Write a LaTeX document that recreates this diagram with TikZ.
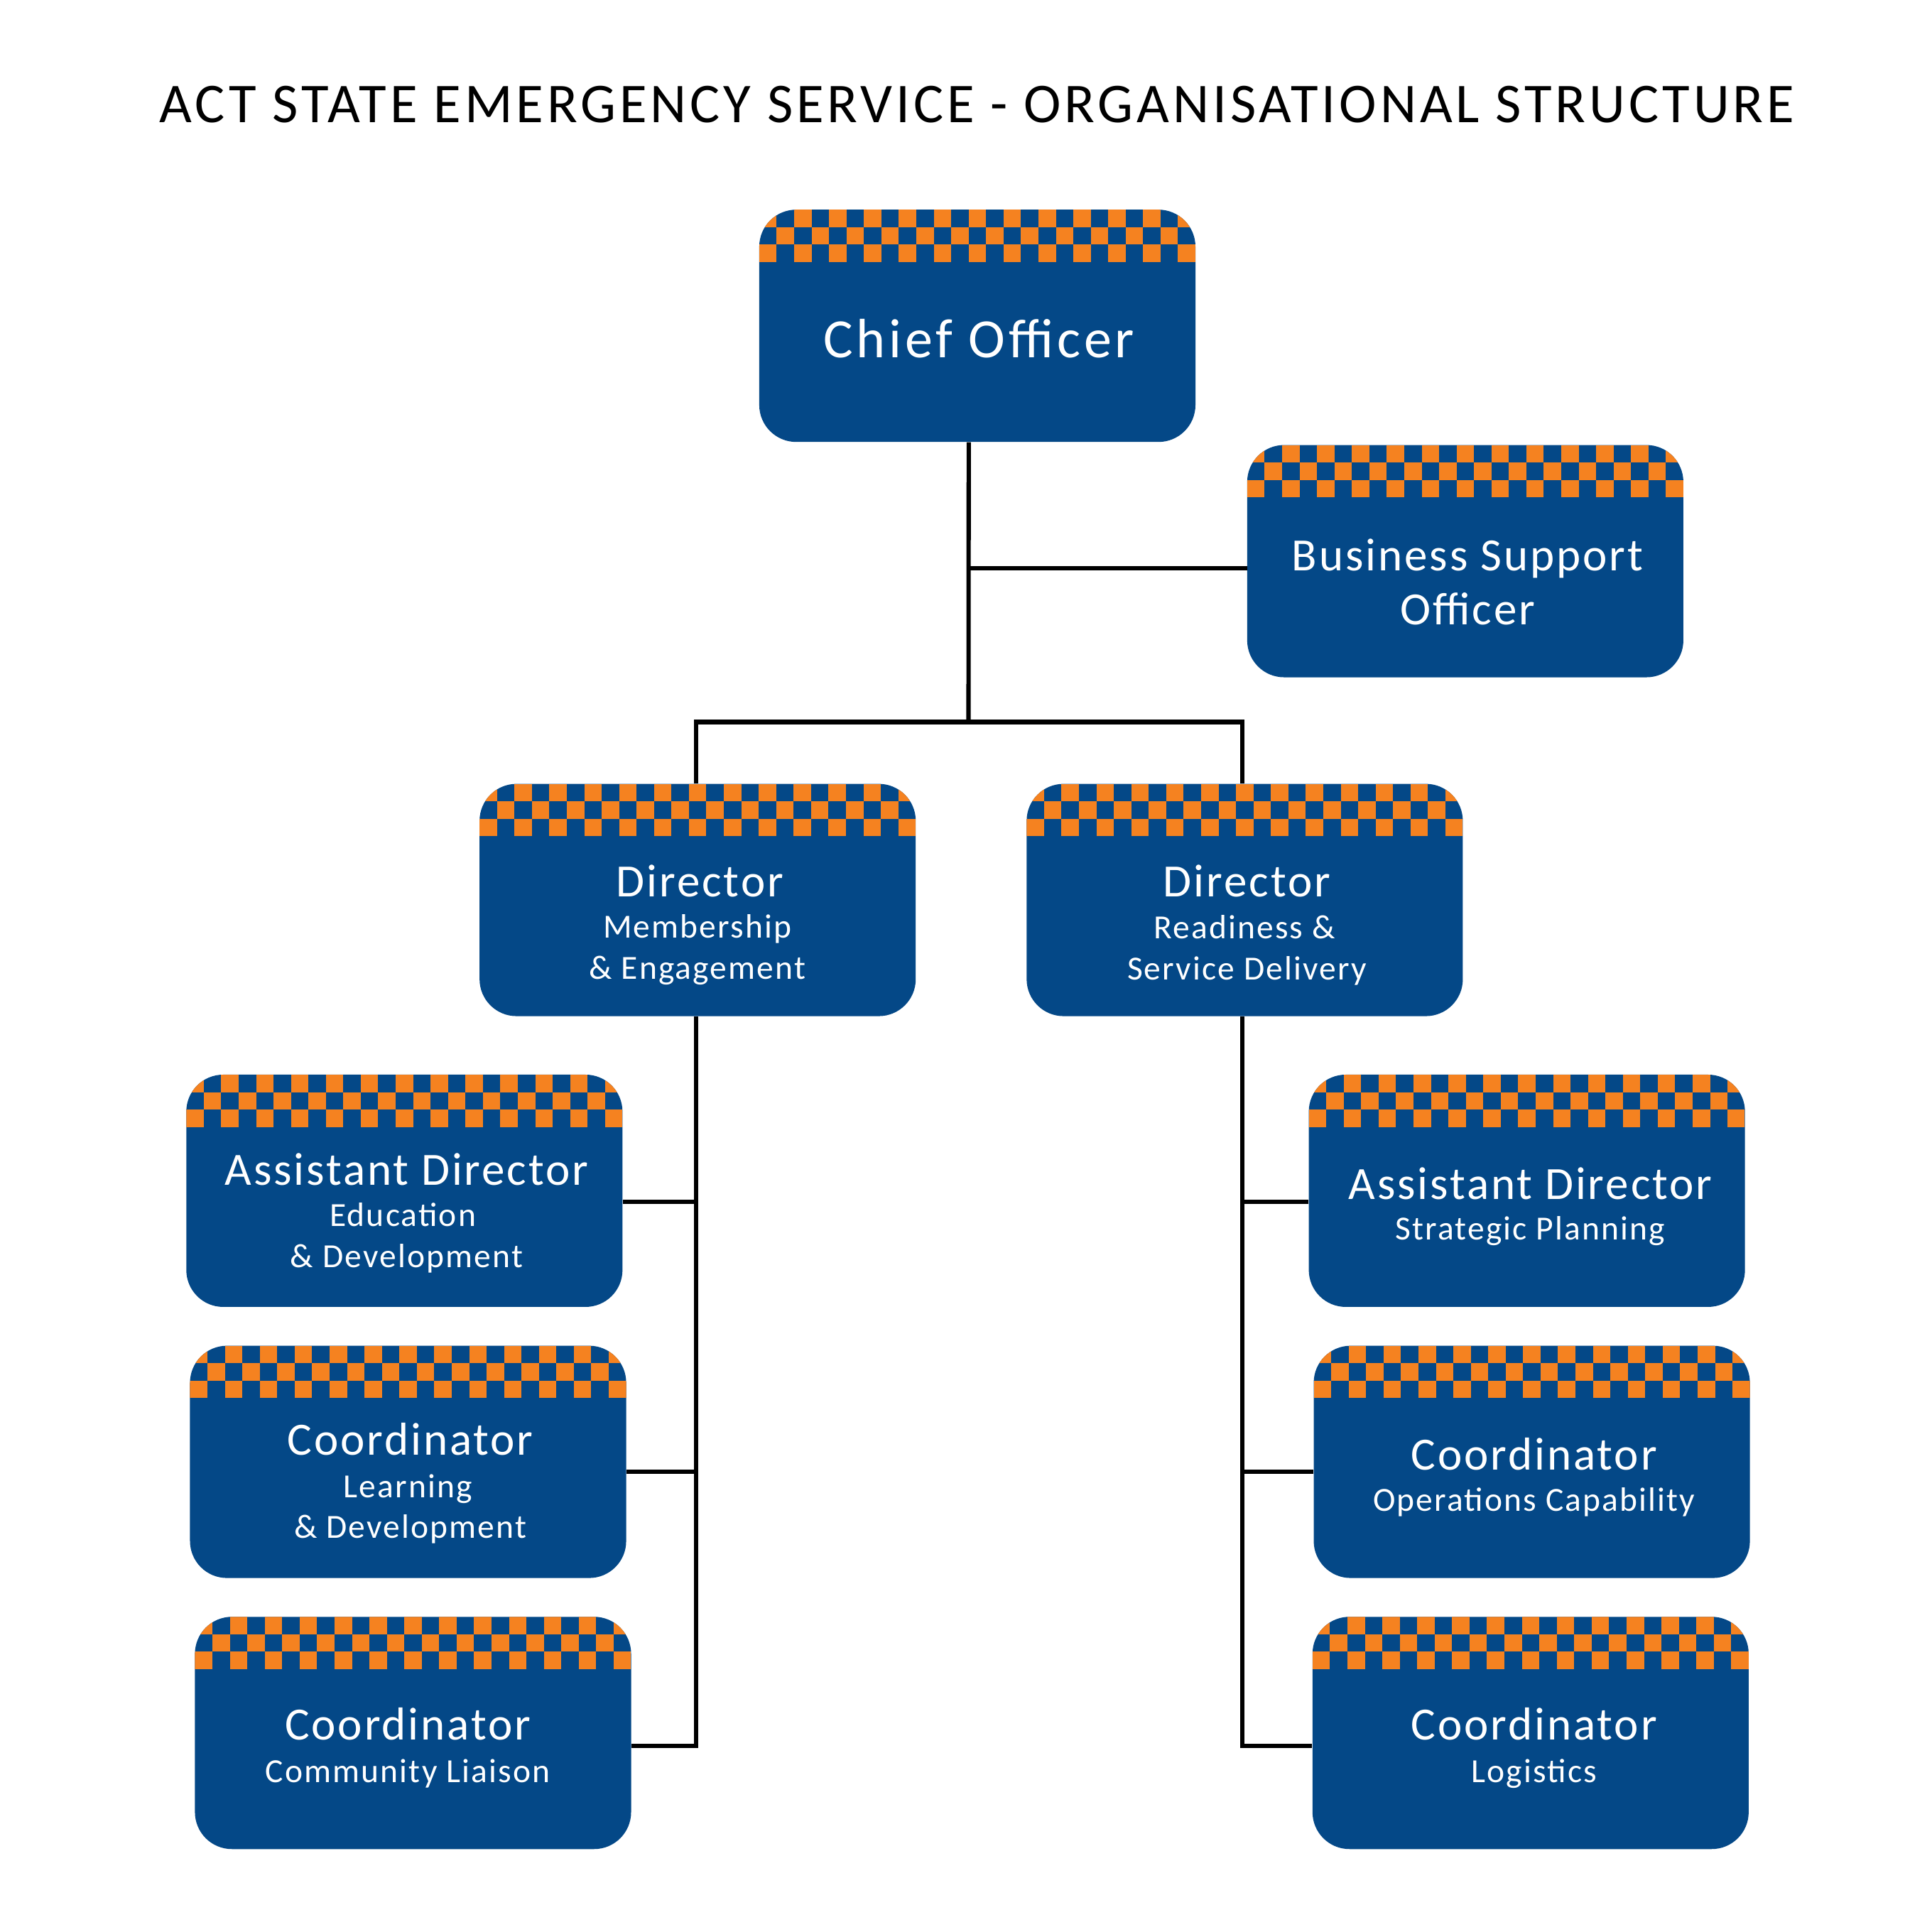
\documentclass[tikz,border=0pt]{standalone}
\usepackage{fontspec}
\setmainfont{Carlito}[LetterSpace=4.5]
\newfontfamily\widefont{Carlito}[LetterSpace=6.2]
\definecolor{sesblue}{RGB}{4,72,135}
\definecolor{sesorange}{RGB}{245,130,32}
\tikzset{
  orgbox/.style={draw=none, fill=sesblue, rounded corners=30pt,
    minimum width=354pt, minimum height=188.5pt, inner sep=0pt, anchor=north west,
    path picture={
      \begin{scope}[sharp corners]
      \foreach \c in {0,2,...,24}{
        \fill[sesorange] ([xshift=\c*14.16pt]path picture bounding box.north west) rectangle +(14.16pt,-14.17pt);
        \fill[sesorange] ([xshift=\c*14.16pt,yshift=-28.34pt]path picture bounding box.north west) rectangle +(14.16pt,-14.17pt);
      }
      \foreach \c in {1,3,...,23}{
        \fill[sesorange] ([xshift=\c*14.16pt,yshift=-14.17pt]path picture bounding box.north west) rectangle +(14.16pt,-14.17pt);
      }
      \end{scope}
    }},
  titletext/.style={anchor=base, inner sep=0pt, text=black, font=\widefont\fontsize{45.6}{50}\selectfont},
  bigtext/.style={anchor=base, inner sep=0pt, text=white, font=\widefont\fontsize{45}{50}\selectfont},
  maintext/.style={anchor=base, inner sep=0pt, text=white, font=\fontsize{37.5}{40}\selectfont},
  subtext/.style={anchor=base, inner sep=0pt, text=white, font=\fontsize{27.4}{30}\selectfont},
  conn/.style={draw=black, line width=3.5pt, line join=miter}
}
\begin{document}
\begin{tikzpicture}[x=1pt,y=1pt]
\useasboundingbox[fill=white] (0,0) rectangle (1568,1568);

\node[titletext] (title) at (793,1468.4) {ACT STATE EMERGENCY SERVICE - ORGANISATIONAL STRUCTURE};

% boxes
\node[orgbox] (chief) at (616,1398) {};
\node[orgbox] (bso) at (1012,1207) {};
\node[orgbox] (dir1) at (389,932) {};
\node[orgbox] (dir2) at (833,932) {};
\node[orgbox] (aded) at (151,696) {};
\node[orgbox] (cld) at (154,476) {};
\node[orgbox] (ccl) at (158,256) {};
\node[orgbox] (adsp) at (1062,696) {};
\node[orgbox] (coc) at (1066,476) {};
\node[orgbox] (clog) at (1065,256) {};

% connectors
\coordinate (bus) at (786,982);
\coordinate (lt) at ([xshift=-1pt]dir1.south);
\coordinate (rt) at ([xshift=-2pt]dir2.south);
\draw[conn] ([xshift=-7pt]chief.south) -- (bus);
\draw[conn] ([yshift=-5.75pt]bso.west) -- ([yshift=-5.75pt]bso.west -| bus);
\draw[conn] ([xshift=-1pt]dir1.north) |- (bus) -| ([xshift=-2pt]dir2.north);
\draw[conn] (lt) |- ([yshift=-10.75pt]ccl.east);
\draw[conn] ([yshift=-8.75pt]aded.east) -- ([yshift=-8.75pt]aded.east -| lt);
\draw[conn] ([yshift=-7.75pt]cld.east) -- ([yshift=-7.75pt]cld.east -| lt);
\draw[conn] (rt) |- ([yshift=-10.75pt]clog.west);
\draw[conn] ([yshift=-8.75pt]adsp.west) -- ([yshift=-8.75pt]adsp.west -| rt);
\draw[conn] ([yshift=-7.75pt]coc.west) -- ([yshift=-7.75pt]coc.west -| rt);

% texts
\node[bigtext] (chiefT) at (794.5,1277.5) {Chief Officer};
\node[maintext] (bsoT1) at (1191,1105) {Business Support};
\node[maintext] (bsoT2) at (1191,1061) {Officer};
\node[maintext] (dir1T1) at (568,840) {Director};
\node[subtext] (dir1T2) at (566,807) {Membership};
\node[subtext] (dir1T3) at (566,773.5) {\& Engagement};
\node[maintext] (dir2T1) at (1012,840) {Director};
\node[subtext] (dir2T2) at (1010,806) {Readiness \&};
\node[subtext] (dir2T3) at (1012,772.5) {Service Delivery};
\node[maintext] (adedT1) at (330,606) {Assistant Director};
\node[subtext] (adedT2) at (327,572.5) {Education};
\node[subtext] (adedT3) at (330,539.5) {\& Development};
\node[maintext] (cldT1) at (333,387) {Coordinator};
\node[subtext] (cldT2) at (331,352.5) {Learning};
\node[subtext] (cldT3) at (333,319.5) {\& Development};
\node[maintext] (cclT1) at (331,156) {Coordinator};
\node[subtext] (cclT2) at (331,121.5) {Community Liaison};
\node[maintext] (adspT1) at (1242,594.7) {Assistant Director};
\node[subtext] (adspT2) at (1242,561.5) {Strategic Planning};
\node[maintext] (cocT1) at (1245,375) {Coordinator};
\node[subtext] (cocT2) at (1245,341.5) {Operations Capability};
\node[maintext] (clogT1) at (1245,156) {Coordinator};
\node[subtext] (clogT2) at (1245,121.5) {Logistics};
\end{tikzpicture}
\end{document}
